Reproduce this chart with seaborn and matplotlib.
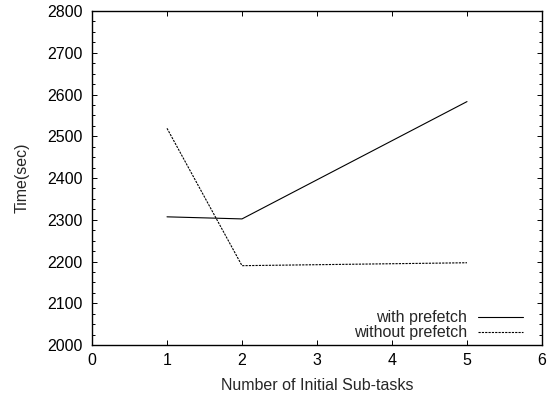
import matplotlib
matplotlib.use("Agg")
import matplotlib.pyplot as plt
import seaborn as sns
import pandas as pd
from matplotlib.ticker import AutoMinorLocator, MultipleLocator

subtasks = [1, 2, 5]
with_prefetch = [2307, 2302, 2583]
without_prefetch = [2519, 2190, 2197]
series_names = ["with prefetch", "without prefetch"]

df = pd.DataFrame({
    "subtasks": subtasks * 2,
    "time": with_prefetch + without_prefetch,
    "series": [series_names[0]] * len(subtasks) + [series_names[1]] * len(subtasks),
})

FS = 11.5
sns.set_style("ticks")
plt.rcParams["font.family"] = ["Liberation Sans", "DejaVu Sans"]
plt.rcParams["font.size"] = FS

fig = plt.figure(figsize=(5.52, 4.0), dpi=100)
ax = fig.add_axes([92 / 552, (400 - 345) / 400, 450 / 552, 334 / 400])

sns.lineplot(
    data=df, x="subtasks", y="time", hue="series", style="series",
    palette=["black", "black"],
    dashes={series_names[0]: "", series_names[1]: (2, 1)},
    linewidth=0.8, ax=ax, legend=True,
)

ax.set_xlim(0, 6)
ax.set_ylim(2000, 2800)
ax.xaxis.set_major_locator(MultipleLocator(1))
ax.yaxis.set_major_locator(MultipleLocator(100))
ax.yaxis.set_minor_locator(AutoMinorLocator(4))
ax.tick_params(which="both", direction="in", top=True, right=True, colors="black", labelsize=FS)
ax.tick_params(which="major", length=3.5, width=0.7)
ax.tick_params(which="minor", length=2, width=0.7)
ax.tick_params(axis="y", pad=7)
ax.tick_params(axis="x", pad=6)
for s in ax.spines.values():
    s.set_visible(True)
    s.set_linewidth(1.0)
    s.set_color("black")

ax.set_xlabel("Number of Initial Sub-tasks", fontsize=FS, labelpad=7)
ax.set_ylabel("Time(sec)", fontsize=FS, labelpad=12)

handles, labels = ax.get_legend_handles_labels()
ax.legend(handles, labels, loc="lower right", frameon=False, markerfirst=False,
          fontsize=FS, handlelength=2.8, handletextpad=0.7, labelspacing=0.0,
          borderaxespad=0.2, bbox_to_anchor=(0.979, -0.014))

fig.savefig("out.png", dpi=100)
